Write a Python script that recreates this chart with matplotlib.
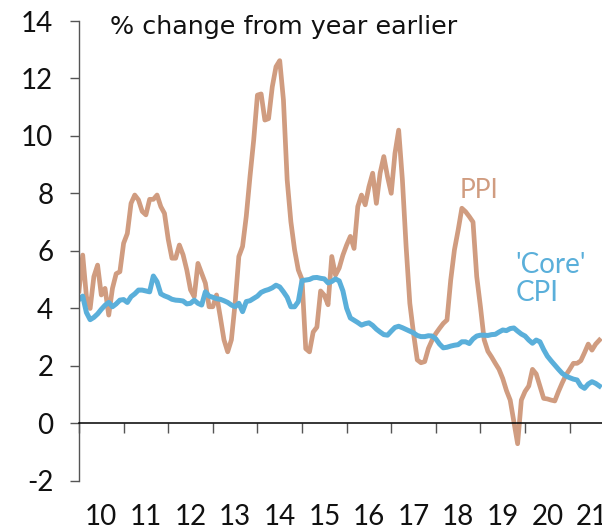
import numpy as np
import matplotlib.pyplot as plt
import matplotlib.transforms as mtransforms

plt.rcParams['font.family'] = ['Lato', 'DejaVu Sans']

# monthly, % change from year earlier, Jan 2010 onwards
start_year = 2010
ppi = [
    4.6, 5.85, 4.4, 3.99, 5.1, 5.5, 4.46, 4.69, 3.76, 4.69, 5.2, 5.27,
    6.26, 6.6, 7.65, 7.94, 7.77, 7.37, 7.25, 7.79, 7.79, 7.94, 7.54, 7.3,
    6.4, 5.74, 5.74, 6.2, 5.86, 5.33, 4.64, 4.4, 5.56, 5.21, 4.87, 4.05,
    4.05, 4.46, 3.7, 2.9, 2.48, 2.9, 4.17, 5.8, 6.15, 7.2, 8.58, 9.86,
    11.42, 11.46, 10.55, 10.6, 11.71, 12.41, 12.62, 11.25, 8.47, 7.01, 6.03, 5.33,
    5.0, 2.59, 2.48, 3.17, 3.34, 4.6, 4.45, 4.12, 5.8, 5.15, 5.4, 5.85,
    6.2, 6.5, 6.08, 7.54, 7.94, 7.6, 8.23, 8.7, 7.65, 8.7, 9.28, 8.58,
    8.0, 9.39, 10.2, 8.47, 6.15, 4.17, 3.12, 2.2, 2.1, 2.14, 2.6, 2.89,
    3.12, 3.3, 3.47, 3.59, 4.98, 6.03, 6.72, 7.48, 7.36, 7.19, 7.0, 5.1,
    4.05, 2.9, 2.5, 2.3, 2.08, 1.87, 1.55, 1.13, 0.8, 0.05, -0.72, 0.8,
    1.1, 1.29, 1.87, 1.71, 1.29, 0.86, 0.84, 0.8, 0.77, 1.1, 1.4, 1.67,
    1.87, 2.08, 2.08, 2.17, 2.45, 2.75, 2.54, 2.75, 2.89,
]
core_cpi = [
    4.3, 4.42, 3.85, 3.6, 3.68, 3.8, 3.96, 4.1, 4.2, 4.05, 4.15, 4.28,
    4.3, 4.2, 4.4, 4.5, 4.63, 4.63, 4.6, 4.57, 5.12, 4.92, 4.5, 4.43,
    4.38, 4.31, 4.28, 4.27, 4.25, 4.15, 4.17, 4.28, 4.17, 4.11, 4.57, 4.42,
    4.38, 4.33, 4.31, 4.26, 4.2, 4.11, 4.05, 4.17, 3.88, 4.23, 4.26, 4.34,
    4.42, 4.55, 4.61, 4.65, 4.71, 4.8, 4.74, 4.57, 4.38, 4.05, 4.05, 4.23,
    4.96, 4.98, 5.0, 5.06, 5.07, 5.04, 5.02, 4.88, 4.93, 5.02, 4.95, 4.6,
    4.0, 3.66, 3.58, 3.5, 3.41, 3.46, 3.49, 3.4, 3.27, 3.17, 3.08, 3.06,
    3.2, 3.33, 3.37, 3.32, 3.26, 3.2, 3.14, 3.05, 3.01, 3.01, 3.04, 3.03,
    2.93, 2.75, 2.62, 2.64, 2.68, 2.71, 2.73, 2.83, 2.83, 2.77, 2.93, 3.03,
    3.06, 3.06, 3.05, 3.08, 3.09, 3.17, 3.24, 3.22, 3.29, 3.31, 3.2, 3.1,
    3.03, 2.89, 2.78, 2.89, 2.83, 2.56, 2.33, 2.17, 2.02, 1.87, 1.73, 1.64,
    1.58, 1.53, 1.5, 1.29, 1.21, 1.36, 1.44, 1.38, 1.29,
]
year_labels = ['10', '11', '12', '13', '14', '15', '16', '17', '18', '19', '20', '21']
y_ticks = [-2, 0, 2, 4, 6, 8, 10, 12, 14]

ppi_color = '#D09C80'
cpi_color = '#5AAFDA'

t = start_year + np.arange(len(ppi)) / 12

fig = plt.figure(figsize=(6.02, 5.26), dpi=100)
ax = fig.add_axes([79 / 602, 45.5 / 526, 523 / 602, 459.5 / 526])

ax.plot(t, ppi, color=ppi_color, lw=3.4, solid_joinstyle='round')
ax.plot(t, core_cpi, color=cpi_color, lw=3.6, solid_joinstyle='round')

ax.set_xlim(start_year, start_year + 140.7 / 12)
ax.set_ylim(-2, 14)

for s in ['top', 'right']:
    ax.spines[s].set_visible(False)
ax.spines['left'].set_color('#555555')
ax.spines['left'].set_linewidth(1.0)
ax.spines['bottom'].set_position(('data', 0))
ax.spines['bottom'].set_color('black')
ax.spines['bottom'].set_linewidth(1.1)

ax.set_yticks(y_ticks)
ax.set_yticklabels([str(v) for v in y_ticks])
ax.tick_params(axis='y', length=6.5, width=1, color='#555555', pad=12,
               labelsize=20, labelcolor='#111111')
# the zero tick continues the black x axis line
ax.yaxis.get_major_ticks()[y_ticks.index(0)].tick1line.set_color('black')

years = np.arange(start_year, start_year + len(year_labels))
ax.set_xticks(years)
ax.set_xticklabels([])
ax.tick_params(axis='x', length=7, width=1, color='#555555')

trans = mtransforms.blended_transform_factory(ax.transData, ax.transAxes)
for yr, lab in zip(years, year_labels):
    ax.text(yr + 0.5, -0.052, lab, transform=trans, ha='center', va='top',
            fontsize=20, color='#111111', clip_on=False)

fig.text(110 / 602, 1 - 15 / 526, '% change from year earlier', ha='left', va='top',
         fontsize=18.3, color='#111111', family='DejaVu Sans')

ax.text(2018.54, 8.55, 'PPI', color=ppi_color, fontsize=19, ha='left', va='top')
ax.text(2019.78, 5.95, "'Core'\nCPI", color=cpi_color, fontsize=20, ha='left', va='top',
        linespacing=1.1)

fig.savefig('out.png', dpi=100)
